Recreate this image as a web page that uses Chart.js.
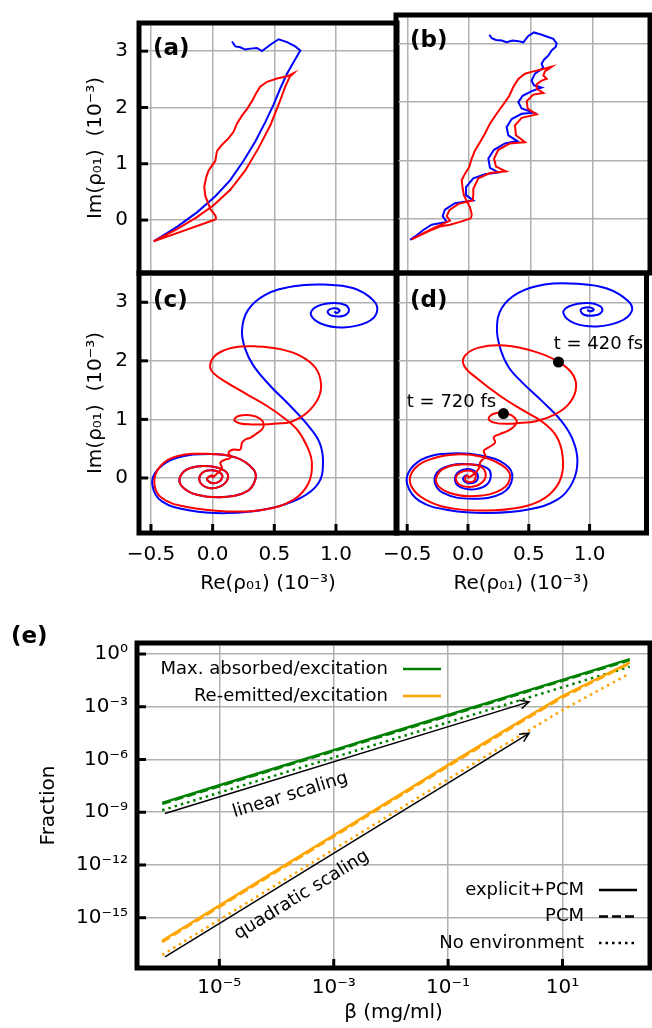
<!DOCTYPE html>
<html><head><meta charset="utf-8">
<script src="https://cdn.jsdelivr.net/npm/chart.js@4.4.1/dist/chart.umd.min.js"></script>
<style>
html,body{margin:0;padding:0;background:#fff;}
#wrap{position:relative;width:652px;height:1028px;overflow:hidden;background:#fff;}
canvas{position:absolute;left:0;top:0;}
</style></head><body><div id="wrap">
<canvas id="ca" width="652" height="1028"></canvas>
<canvas id="cb" width="652" height="1028"></canvas>
<canvas id="cc" width="652" height="1028"></canvas>
<canvas id="cd" width="652" height="1028"></canvas>
<canvas id="ce" width="652" height="1028"></canvas>
</div>
<script>
// ---------------- tick values / labels ----------------
const reTicks = [-0.5, 0, 0.5, 1.0];
const reTickLabels = ['−0.5', '0.0', '0.5', '1.0'];
const imTicks = [0, 1, 2, 3];
const imTickLabels = ['0', '1', '2', '3'];
const betaTicks = [1e-5, 1e-3, 1e-1, 1e1];
const betaTickLabels = ['10⁻⁵', '10⁻³', '10⁻¹', '10¹'];
const fracTicks = [1, 1e-3, 1e-6, 1e-9, 1e-12, 1e-15];
const fracTickLabels = ['10⁰', '10⁻³', '10⁻⁶', '10⁻⁹', '10⁻¹²', '10⁻¹⁵'];

// ---------------- panel (a) ----------------
const aBlueRe = [0.157,0.184,0.224,0.265,0.305,0.359,0.400,0.468,0.535,0.603,0.670,0.711,0.670,0.603,0.549,0.495,0.427,0.346,0.251,0.143,0.022,-0.127,-0.289,-0.478];
const aBlueIm = [3.171,3.085,3.068,3.028,3.045,3.057,3.000,3.114,3.211,3.160,3.085,3.011,2.856,2.599,2.341,2.055,1.740,1.397,1.053,0.710,0.424,0.137,-0.120,-0.378];
const aRedRe = [0.022,-0.478,-0.289,-0.127,0.008,0.143,0.265,0.373,0.468,0.541,0.589,0.624,0.657,0.603,0.522,0.441,0.386,0.354,0.319,0.278,0.238,0.197,0.170,0.130,0.076,0.035,0.022,-0.005,-0.032,-0.051,-0.068,-0.059,-0.038,-0.019,0.022,0.030];
const aRedIm = [0.011,-0.378,-0.160,0.052,0.263,0.538,0.882,1.282,1.683,2.084,2.370,2.541,2.610,2.553,2.513,2.456,2.370,2.255,2.112,1.969,1.855,1.711,1.568,1.454,1.339,1.225,1.053,0.967,0.881,0.767,0.595,0.424,0.309,0.195,0.080,0.011];

// ---------------- panel (b) ----------------
const bBlueRe = [0.165,0.184,0.219,0.265,0.305,0.354,0.400,0.441,0.481,0.527,0.576,0.630,0.684,0.711,0.703,0.670,0.643,0.608,0.589,0.603,0.535,0.508,0.527,0.589,0.508,0.435,0.400,0.427,0.522,0.427,0.346,0.305,0.319,0.392,0.292,0.203,0.157,0.170,0.238,0.130,0.035,-0.024,-0.024,0.035,-0.114,-0.195,-0.214,-0.181,-0.303,-0.370,-0.424,-0.478];
const bBlueIm = [3.16,3.10,3.07,3.06,3.03,3.06,3.05,3.03,3.14,3.20,3.17,3.13,3.09,3.01,2.95,2.89,2.80,2.73,2.66,2.59,2.49,2.37,2.29,2.25,2.19,2.11,2.00,1.89,1.82,1.80,1.71,1.57,1.43,1.33,1.29,1.18,1.03,0.87,0.79,0.76,0.69,0.54,0.40,0.31,0.26,0.15,0.04,-0.06,-0.11,-0.20,-0.29,-0.37];
const bRedRe = [0.016,-0.073,-0.154,-0.235,-0.316,-0.397,-0.465,-0.384,-0.289,-0.154,-0.181,-0.159,-0.086,0.030,0.035,0.035,0.076,0.170,0.300,0.219,0.203,0.238,0.332,0.454,0.381,0.373,0.427,0.549,0.476,0.468,0.522,0.603,0.549,0.549,0.589,0.630,0.603,0.616,0.670,0.603,0.522,0.454,0.400,0.359,0.327,0.292,0.224,0.170,0.130,0.089,0.049,0.022,0.003,-0.032,-0.059,-0.051,-0.041,-0.019,0.008,0.022,0.016];
const bRedIm = [0.00,-0.06,-0.11,-0.14,-0.21,-0.29,-0.36,-0.27,-0.17,-0.04,0.04,0.14,0.25,0.31,0.40,0.51,0.69,0.78,0.81,0.89,1.03,1.18,1.29,1.31,1.43,1.60,1.73,1.79,1.89,2.02,2.13,2.16,2.23,2.31,2.37,2.40,2.46,2.53,2.61,2.57,2.53,2.49,2.40,2.26,2.11,2.00,1.80,1.63,1.46,1.31,1.17,1.03,0.89,0.77,0.66,0.51,0.40,0.30,0.19,0.07,0.00];

// ---------------- panel (c) ----------------
const cBlueRe = [0.008,-0.005,-0.046,-0.005,0.057,0.076,-0.005,-0.086,-0.105,-0.032,0.062,0.122,0.103,-0.019,-0.181,-0.262,-0.249,-0.127,0.089,0.278,0.346,0.332,0.197,-0.019,-0.289,-0.446,-0.489,-0.411,-0.181,0.116,0.441,0.711,0.859,0.895,0.868,0.778,0.630,0.468,0.332,0.265,0.238,0.284,0.427,0.657,0.900,1.143,1.305,1.332,1.251,1.062,0.886,0.797,0.832,0.954,1.076,1.105,1.062,0.968,0.932,0.981,1.030,1.008,0.986];
const cBlueIm = [0.000,0.040,-0.017,-0.086,-0.057,0.057,0.131,0.086,-0.057,-0.171,-0.143,-0.017,0.114,0.200,0.171,0.029,-0.143,-0.286,-0.326,-0.229,-0.029,0.143,0.343,0.411,0.343,0.143,-0.114,-0.400,-0.554,-0.600,-0.531,-0.343,-0.086,0.257,0.600,0.886,1.229,1.571,1.914,2.200,2.514,2.857,3.126,3.274,3.303,3.240,3.029,2.829,2.657,2.571,2.629,2.783,2.914,2.983,2.954,2.857,2.771,2.771,2.840,2.897,2.863,2.817,2.840];
const cRedRe = [-0.005,0.041,0.076,0.062,0.103,0.143,0.130,0.170,0.224,0.238,0.265,0.305,0.346,0.400,0.414,0.386,0.305,0.211,0.176,0.224,0.319,0.414,0.522,0.630,0.765,0.859,0.878,0.832,0.711,0.549,0.359,0.170,0.035,-0.019,0.003,0.116,0.278,0.441,0.576,0.684,0.765,0.805,0.778,0.657,0.414,0.116,-0.208,-0.411,-0.473,-0.424,-0.289,-0.019,0.197,0.332,0.346,0.278,0.089,-0.127,-0.249,-0.262,-0.181,-0.019,0.103,0.122,0.062,-0.032,-0.105,-0.086,-0.005,0.076,0.057,-0.005,-0.046,-0.005,0.008];
const cRedIm = [0.000,0.086,0.171,0.257,0.314,0.343,0.440,0.486,0.486,0.600,0.657,0.686,0.743,0.829,0.914,1.011,1.069,1.057,0.989,0.931,0.914,0.914,0.931,0.954,1.114,1.371,1.629,1.886,2.086,2.200,2.246,2.229,2.114,1.943,1.800,1.629,1.429,1.229,1.029,0.829,0.543,0.257,-0.086,-0.371,-0.543,-0.571,-0.497,-0.343,-0.086,0.200,0.371,0.411,0.343,0.143,-0.029,-0.229,-0.326,-0.286,-0.143,0.029,0.171,0.200,0.114,-0.017,-0.143,-0.171,-0.057,0.086,0.131,0.057,-0.057,-0.086,-0.017,0.040,0.000];

// ---------------- panel (d) ----------------
const dBlueRe = [0.008,-0.014,-0.041,0.008,0.076,0.068,-0.019,-0.100,-0.086,0.049,0.170,0.170,0.008,-0.195,-0.276,-0.208,0.035,0.278,0.365,0.305,0.116,-0.127,-0.343,-0.473,-0.500,-0.397,-0.154,0.170,0.495,0.738,0.859,0.900,0.859,0.765,0.603,0.441,0.332,0.265,0.238,0.278,0.414,0.630,0.900,1.143,1.319,1.346,1.251,1.062,0.873,0.784,0.832,0.981,1.089,1.103,1.049,0.954,0.927,0.995,1.035,1.003,0.981];
const dBlueIm = [0.000,0.046,-0.023,-0.092,-0.034,0.092,0.149,0.046,-0.126,-0.195,-0.080,0.149,0.235,0.178,-0.023,-0.252,-0.356,-0.264,0.006,0.235,0.379,0.419,0.350,0.149,-0.109,-0.396,-0.551,-0.597,-0.539,-0.367,-0.080,0.293,0.666,0.981,1.325,1.641,1.899,2.215,2.559,2.903,3.161,3.305,3.316,3.236,3.018,2.846,2.674,2.588,2.645,2.817,2.932,2.989,2.932,2.846,2.777,2.788,2.874,2.915,2.874,2.846,2.869];
const dRedRe = [0.000,0.049,0.089,0.103,0.143,0.130,0.170,0.224,0.211,0.265,0.332,0.386,0.400,0.359,0.292,0.211,0.170,0.224,0.332,0.441,0.549,0.697,0.819,0.886,0.865,0.743,0.549,0.305,0.089,-0.024,-0.032,0.076,0.265,0.454,0.616,0.724,0.778,0.765,0.670,0.495,0.224,-0.100,-0.343,-0.473,-0.438,-0.289,-0.100,0.103,0.278,0.346,0.278,0.062,-0.154,-0.262,-0.208,-0.019,0.116,0.143,0.062,-0.059,-0.100,-0.032,0.057,0.049,-0.014,-0.019,0.008];
const dRedIm = [0.000,0.063,0.161,0.275,0.367,0.465,0.522,0.608,0.694,0.752,0.809,0.895,0.981,1.067,1.113,1.096,1.010,0.941,0.924,0.941,0.964,1.067,1.239,1.497,1.756,1.985,2.157,2.260,2.226,2.088,1.916,1.698,1.400,1.153,0.952,0.723,0.379,0.006,-0.281,-0.470,-0.551,-0.528,-0.379,-0.109,0.161,0.333,0.402,0.367,0.218,0.034,-0.195,-0.310,-0.252,-0.069,0.149,0.235,0.178,0.006,-0.138,-0.126,0.006,0.120,0.080,-0.052,-0.057,0.034,0.023];
const dMarkRe = [0.744, 0.292];
const dMarkIm = [1.98, 1.10];
const dMarkLabels = ['t = 420 fs', 't = 720 fs'];

// ---------------- panel (e) ----------------
const beta = [1e-6, 1e-5, 1e-4, 1e-3, 1e-2, 1e-1, 1, 10, 150];
const absExplicit = [3.4e-9, 3.4e-8, 3.4e-7, 3.4e-6, 3.4e-5, 3.4e-4, 3.4e-3, 3.4e-2, 0.51];
const absPCM      = [3.0e-9, 3.0e-8, 3.0e-7, 3.0e-6, 3.0e-5, 3.0e-4, 3.0e-3, 3.0e-2, 0.45];
const absNoEnv    = [1.3e-9, 1.3e-8, 1.3e-7, 1.3e-6, 1.3e-5, 1.3e-4, 1.3e-3, 1.3e-2, 0.19];
const emExplicit  = [4.9e-17, 4.9e-15, 4.9e-13, 4.9e-11, 4.9e-9, 4.9e-7, 4.7e-5, 4.1e-3, 0.32];
const emPCM       = [4.1e-17, 4.1e-15, 4.1e-13, 4.1e-11, 4.1e-9, 4.1e-7, 3.9e-5, 3.4e-3, 0.29];
const emNoEnv     = [7.6e-18, 7.6e-16, 7.6e-14, 7.6e-12, 7.6e-10, 7.6e-8, 7.2e-6, 6.5e-4, 0.079];
const seriesLabels = ['Max. absorbed/excitation', 'Re-emitted/excitation'];
const envLabels = ['explicit+PCM', 'PCM', 'No environment'];
const arrowLinear = {x0: 1.12e-6, y0: 8.5e-10, x1: 2.6, y1: 1.9e-3, text: 'linear scaling', tx: 1.74e-4, ty: 9.3e-9};
const arrowQuad   = {x0: 1.12e-6, y0: 6.0e-18, x1: 2.6, y1: 3.1e-5, text: 'quadratic scaling', tx: 2.75e-4, ty: 1.95e-14};

// ---------------- helpers ----------------
const FONT = "'DejaVu Sans', 'Liberation Sans', sans-serif";
Chart.defaults.font.family = FONT;
Chart.defaults.color = '#000';
const W = 652, H = 1028;
const BLUE = '#0000ff', RED = '#ff0000', GREEN = '#008000', ORANGE = '#ffa500';
const GRID = '#b0b0b0';
const DASH = [9, 4], DOT = [2.5, 4];

function pts(xs, ys) {
  const n = Math.min(xs.length, ys.length), o = [];
  for (let i = 0; i < n; i++) o.push({x: xs[i], y: ys[i]});
  return o;
}
function curve(xs, ys, color, tension) {
  return {data: pts(xs, ys), showLine: true, borderColor: color, borderWidth: 2, pointRadius: 0, tension: tension, fill: false};
}

function decor(o) {
  return {
    id: 'decor',
    afterDraw(chart) {
      const {ctx, chartArea: a, scales} = chart;
      ctx.save();
      ctx.strokeStyle = '#000';
      ctx.lineWidth = 3;
      ctx.setLineDash([]);
      if (o.tickLeft) {
        scales.y.ticks.forEach(t => {
          const p = scales.y.getPixelForValue(t.value);
          ctx.beginPath(); ctx.moveTo(a.left, p); ctx.lineTo(a.left + 9, p); ctx.stroke();
        });
      }
      if (o.tickBottom) {
        scales.x.ticks.forEach(t => {
          const p = scales.x.getPixelForValue(t.value);
          ctx.beginPath(); ctx.moveTo(p, a.bottom); ctx.lineTo(p, a.bottom - 9); ctx.stroke();
        });
      }
      ctx.lineWidth = 5;
      ctx.strokeRect(a.left, a.top, a.right - a.left, a.bottom - a.top);
      if (o.label) {
        ctx.fillStyle = '#000';
        ctx.font = 'bold 23px ' + FONT;
        ctx.textBaseline = 'middle';
        ctx.textAlign = 'left';
        ctx.fillText(o.label, a.left + 14, a.top + o.ly);
      }
      if (o.extra) o.extra(chart, ctx);
      ctx.restore();
    }
  };
}

function panel(id, box, o) {
  const xH = o.showX ? 70 : 0;
  return new Chart(document.getElementById(id), {
    type: 'scatter',
    data: {datasets: o.datasets},
    options: {
      responsive: false, animation: false, devicePixelRatio: 1,
      layout: {padding: {left: o.showY ? 0 : box.l, top: box.t, right: W - box.r, bottom: H - box.b - xH}},
      plugins: {legend: {display: false}, tooltip: {enabled: false}},
      scales: {
        x: {
          type: 'linear', min: o.xmin, max: o.xmax,
          afterBuildTicks: s => { s.ticks = reTicks.map(v => ({value: v})); },
          afterFit: s => { s.height = xH; },
          ticks: {display: o.showX, padding: 10, font: {size: 20}, maxRotation: 0, autoSkip: false,
                  callback: (v, i) => reTickLabels[i]},
          grid: {color: GRID, lineWidth: 1.5, drawTicks: false},
          border: {display: false},
          title: {display: o.showX, text: 'Re(ρ₀₁) (10⁻³)', font: {size: 20}, padding: {top: 0, bottom: 7}}
        },
        y: {
          type: 'linear', min: -0.94, max: 3.5,
          afterBuildTicks: s => { s.ticks = imTicks.map(v => ({value: v})); },
          afterFit: s => { s.width = o.showY ? box.l : 0; },
          ticks: {display: o.showY, padding: 11, font: {size: 20}, callback: (v, i) => imTickLabels[i]},
          grid: {color: GRID, lineWidth: 1.5, drawTicks: false},
          border: {display: false},
          title: {display: o.showY, text: 'Im(ρ₀₁)  (10⁻³)', font: {size: 20}, padding: {top: 84, bottom: 0}}
        }
      }
    },
    plugins: [decor(o)]
  });
}

// ---------------- panels a-d ----------------
panel('ca', {l: 139, t: 15, r: 397, b: 273}, {
  showY: true, showX: false, xmin: -0.597, xmax: 1.495, label: '(a)', ly: 26, tickLeft: true,
  datasets: [curve(aRedRe, aRedIm, RED, 0), curve(aBlueRe, aBlueIm, BLUE, 0)]
});
panel('cb', {l: 396, t: 15, r: 650, b: 273}, {
  showY: false, showX: false, xmin: -0.592, xmax: 1.468, label: '(b)', ly: 26,
  datasets: [curve(bRedRe, bRedIm, RED, 0), curve(bBlueRe, bBlueIm, BLUE, 0)]
});
panel('cc', {l: 139, t: 273, r: 397, b: 533}, {
  showY: true, showX: true, xmin: -0.597, xmax: 1.495, label: '(c)', ly: 28, tickLeft: true, tickBottom: true,
  datasets: [curve(cRedRe, cRedIm, RED, 0.4), curve(cBlueRe, cBlueIm, BLUE, 0.4)]
});
panel('cd', {l: 396, t: 273, r: 650, b: 533}, {
  showY: false, showX: true, xmin: -0.592, xmax: 1.468, label: '(d)', ly: 28, tickBottom: true,
  datasets: [
    {data: pts(dMarkRe, dMarkIm), showLine: false, pointRadius: 5.5, pointBackgroundColor: '#000', pointBorderColor: '#000', borderWidth: 0},
    curve(dRedRe, dRedIm, RED, 0.4), curve(dBlueRe, dBlueIm, BLUE, 0.4)
  ],
  extra: (chart, ctx) => {
    const sx = chart.scales.x, sy = chart.scales.y;
    const off = [[40, -18], [-52, -11]];
    ctx.fillStyle = '#000';
    ctx.font = '18px ' + FONT;
    ctx.textAlign = 'center';
    ctx.textBaseline = 'middle';
    dMarkLabels.forEach((t, i) => {
      ctx.fillText(t, sx.getPixelForValue(dMarkRe[i]) + off[i][0], sy.getPixelForValue(dMarkIm[i]) + off[i][1]);
    });
  }
});

// ---------------- panel e ----------------
function arrow(ctx, x0, y0, x1, y1) {
  ctx.beginPath(); ctx.moveTo(x0, y0); ctx.lineTo(x1, y1); ctx.stroke();
  const ang = Math.atan2(y1 - y0, x1 - x0), L = 10, s = 0.45;
  ctx.beginPath();
  ctx.moveTo(x1 - L * Math.cos(ang - s), y1 - L * Math.sin(ang - s));
  ctx.lineTo(x1, y1);
  ctx.lineTo(x1 - L * Math.cos(ang + s), y1 - L * Math.sin(ang + s));
  ctx.stroke();
}
function line(xs, ys, color, dash) {
  return {data: pts(xs, ys), showLine: true, borderColor: color, borderWidth: 2.5, borderDash: dash, pointRadius: 0, tension: 0, fill: false};
}
const eBox = {l: 137, t: 643, r: 650, b: 968};
new Chart(document.getElementById('ce'), {
  type: 'scatter',
  data: {datasets: [
    line(beta, emExplicit, ORANGE, []), line(beta, emPCM, ORANGE, DASH), line(beta, emNoEnv, ORANGE, DOT),
    line(beta, absExplicit, GREEN, []), line(beta, absPCM, GREEN, DASH), line(beta, absNoEnv, GREEN, DOT)
  ]},
  options: {
    responsive: false, animation: false, devicePixelRatio: 1,
    layout: {padding: {left: 0, top: eBox.t, right: W - eBox.r, bottom: H - eBox.b - 60}},
    plugins: {legend: {display: false}, tooltip: {enabled: false}},
    scales: {
      x: {
        type: 'logarithmic', min: Math.pow(10, -6.44), max: Math.pow(10, 2.53),
        afterBuildTicks: s => { s.ticks = betaTicks.map(v => ({value: v})); },
        afterFit: s => { s.height = 60; },
        ticks: {padding: 8, font: {size: 20}, maxRotation: 0, autoSkip: false, callback: (v, i) => betaTickLabels[i]},
        grid: {color: GRID, lineWidth: 1.5, drawTicks: false},
        border: {display: false},
        title: {display: true, text: 'β (mg/ml)', font: {size: 20}, padding: {top: 0, bottom: 3}}
      },
      y: {
        type: 'logarithmic', min: Math.pow(10, -17.86), max: Math.pow(10, 0.626),
        afterBuildTicks: s => { s.ticks = fracTicks.map(v => ({value: v})); },
        afterFit: s => { s.width = eBox.l; },
        ticks: {padding: 9, font: {size: 20}, autoSkip: false, callback: (v, i) => fracTickLabels[i]},
        grid: {color: GRID, lineWidth: 1.5, drawTicks: false},
        border: {display: false},
        title: {display: true, text: 'Fraction', font: {size: 20}, padding: {top: 37, bottom: 0}}
      }
    }
  },
  plugins: [decor({tickLeft: true, tickBottom: true, extra: (chart, ctx) => {
    const sx = chart.scales.x, sy = chart.scales.y, a = chart.chartArea;
    ctx.strokeStyle = '#000'; ctx.fillStyle = '#000'; ctx.lineWidth = 1.5; ctx.setLineDash([]);
    [arrowLinear, arrowQuad].forEach(ar => {
      const x0 = sx.getPixelForValue(ar.x0), y0 = sy.getPixelForValue(ar.y0);
      const x1 = sx.getPixelForValue(ar.x1), y1 = sy.getPixelForValue(ar.y1);
      arrow(ctx, x0, y0, x1, y1);
      ctx.save();
      ctx.translate(sx.getPixelForValue(ar.tx), sy.getPixelForValue(ar.ty));
      ctx.rotate(Math.atan2(y1 - y0, x1 - x0));
      ctx.font = '18px ' + FONT; ctx.textAlign = 'center'; ctx.textBaseline = 'middle';
      ctx.fillText(ar.text, 0, 0);
      ctx.restore();
    });
    // legends
    ctx.font = '18px ' + FONT; ctx.textAlign = 'right'; ctx.textBaseline = 'middle';
    const cols = [GREEN, ORANGE];
    seriesLabels.forEach((t, i) => {
      const y = a.top + 26 + i * 27;
      ctx.fillStyle = '#000'; ctx.fillText(t, a.left + 251, y);
      ctx.strokeStyle = cols[i]; ctx.lineWidth = 2.5; ctx.setLineDash([]);
      ctx.beginPath(); ctx.moveTo(a.left + 266, y); ctx.lineTo(a.left + 304, y); ctx.stroke();
    });
    const dashes = [[], DASH, DOT];
    envLabels.forEach((t, i) => {
      const y = a.top + 247 + i * 26.5;
      ctx.fillStyle = '#000'; ctx.fillText(t, a.left + 447, y);
      ctx.strokeStyle = '#000'; ctx.lineWidth = 2.5; ctx.setLineDash(dashes[i]);
      ctx.beginPath(); ctx.moveTo(a.left + 462, y); ctx.lineTo(a.left + 500, y); ctx.stroke();
    });
    ctx.setLineDash([]);
    ctx.font = 'bold 23px ' + FONT; ctx.textAlign = 'left'; ctx.fillStyle = '#000';
    ctx.fillText('(e)', 11, 637);
  }})]
});
</script>
</body></html>
